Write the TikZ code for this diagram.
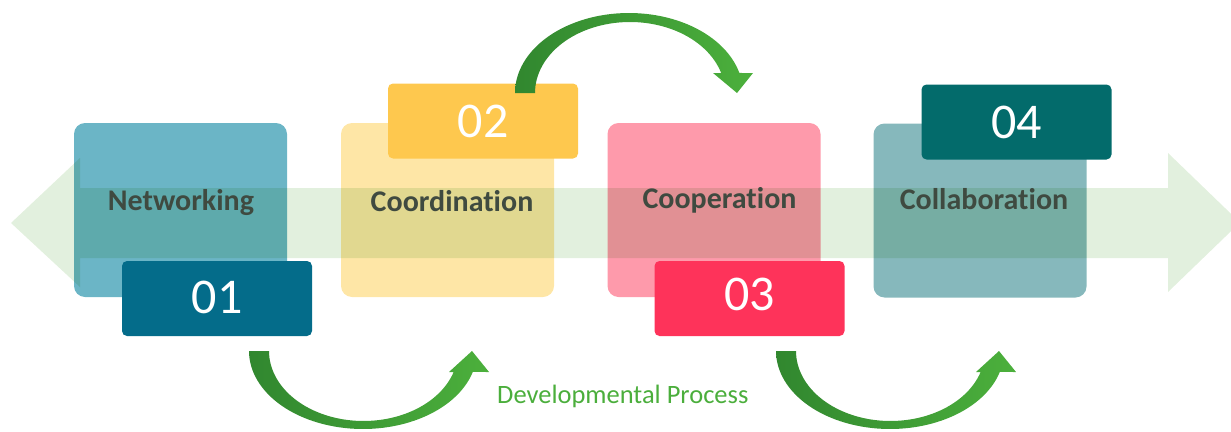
\documentclass[tikz,border=0pt]{standalone}
\usepackage{fontspec}
\setmainfont[Ligatures=NoCommon]{Carlito}
\definecolor{c1}{HTML}{6BB5C6}
\definecolor{c2}{HTML}{FEE6A6}
\definecolor{c3}{HTML}{FE9AAB}
\definecolor{c4}{HTML}{86B8BC}
\definecolor{n1}{HTML}{046C8A}
\definecolor{n2}{HTML}{FEC84E}
\definecolor{n3}{HTML}{FE335A}
\definecolor{n4}{HTML}{036B6B}
\definecolor{band}{HTML}{E2F0DE}
\definecolor{labc}{HTML}{3F4A40}
\definecolor{gdark}{HTML}{31872F}
\definecolor{glight}{HTML}{4CB03C}
\definecolor{devc}{HTML}{4BAE3C}
\begin{document}
\begin{tikzpicture}[x=1pt,y=-1pt,
  bigbox/.style={rectangle, rounded corners=11pt, minimum width=213pt, minimum height=174pt, inner sep=0pt},
  numbox/.style={rectangle, rounded corners=5pt, minimum width=190pt, minimum height=75pt, inner sep=0pt},
  numtext/.style={text=white, font=\fontsize{50}{56}\selectfont, inner sep=0pt, anchor=base},
  labtext/.style={text=labc, font=\bfseries\fontsize{30}{34}\selectfont, inner sep=0pt, anchor=base},
  curved/.style={left color=gdark, right color=glight}]
\useasboundingbox (0,0) rectangle (1231,431);
\clip (0,0) rectangle (1231,431);
% large boxes
\node[bigbox, fill=c1] (b1) at (180.5,210) {};
\node[bigbox, fill=c2] (b2) at (447.5,210) {};
\node[bigbox, fill=c3] (b3) at (714,210) {};
\node[bigbox, fill=c4] (b4) at (980,210.5) {};
% double arrow band
\begin{scope}[blend mode=multiply]
\fill[band] (11,223) -- (80,158) -- (80,188) -- (1168,188) -- (1168,153) -- (1240,222.5)
  -- (1168,292) -- (1168,258) -- (80,258) -- (80,287) -- cycle;
\end{scope}
% number boxes
\node[numbox, fill=n1] (n1) at (217,298.5) {};
\node[numbox, fill=n2] (n2) at (483,121) {};
\node[numbox, fill=n3] (n3) at (749.5,298.5) {};
\node[numbox, fill=n4] (n4) at (1016.5,122) {};
\node[numtext] (t1) at (217,313) {01};
\node[numtext] (t2) at (483,137) {02};
\node[numtext] (t3) at (749.5,310) {03};
\node[numtext] (t4) at (1016.5,138) {04};
% labels
\node[labtext] (l1) at (181,210) {Networking};
\node[labtext] (l2) at (452,211) {Coordination};
\node[labtext] (l3) at (719.5,208) {Cooperation};
\node[labtext] (l4) at (984,209) {Collaboration};
% curved arrows
\shade[curved] plot[domain=180:14.48, samples=60] ({629+114*cos(\x)},{93-80*sin(\x)})
  -- (753,73) -- (737,93) -- (713,73)
  -- plot[domain=16.36:180, samples=60] ({630+95*cos(\x)},{93-71*sin(\x)}) -- cycle;
\shade[curved] plot[domain=180:15.6, samples=60] ({363+114*cos(\x)},{351+78*sin(\x)})
  -- (489,372) -- (472,351) -- (449,372)
  -- plot[domain=17.46:180, samples=60] ({363.5+94.5*cos(\x)},{351+70*sin(\x)}) -- cycle;
\begin{scope}[xshift=527pt]
\shade[curved] plot[domain=180:15.6, samples=60] ({363+114*cos(\x)},{351+78*sin(\x)})
  -- (489,372) -- (472,351) -- (449,372)
  -- plot[domain=17.46:180, samples=60] ({363.5+94.5*cos(\x)},{351+70*sin(\x)}) -- cycle;
\end{scope}
\node[text=devc, font=\fontsize{26.5}{30}\selectfont, inner sep=0pt, anchor=base west] (dev) at (497,403) {Developmental Process};
\end{tikzpicture}
\end{document}
